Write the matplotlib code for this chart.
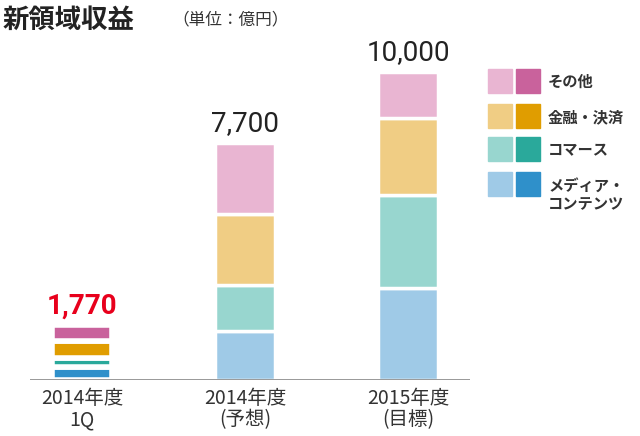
import matplotlib
matplotlib.use("Agg")
import matplotlib.pyplot as plt
from matplotlib.patches import Rectangle

plt.rcParams["font.family"] = "Noto Sans CJK JP"

categories = ["2014年度\n1Q", "2014年度\n(予想)", "2015年度\n(目標)"]
totals = ["1,770", "7,700", "10,000"]
series_names = ["メディア・\nコンテンツ", "コマース", "金融・決済", "その他"]
media = [420, 1600, 3000]
commerce = [300, 1500, 3000]
finance = [550, 2300, 2500]
other = [500, 2300, 1500]
light = ["#9fcae7", "#98d6cf", "#f0cd84", "#e9b5d2"]
dark = ["#2f90ca", "#2aa99b", "#e09d00", "#c9629c"]

fig = plt.figure(figsize=(6.4, 4.36), dpi=100)
ax = fig.add_axes([30/640, 56/436, 440/640, 340/436])
ax.set_xlim(-0.319, 2.38)
ax.set_ylim(0, 340/0.0308)
for s in ax.spines.values():
    s.set_visible(False)
ax.set_yticks([])
ax.set_xticks([])
ax.axhline(0, color="#888888", lw=1.2)

series = [media, commerce, finance, other]
for i in range(3):
    bottom = 0
    for k, vals in enumerate(series):
        col = dark[k] if i == 0 else light[k]
        lw = 4 if i == 0 else 2.5
        ax.bar(i, vals[i], 0.37, bottom=bottom, color=col, edgecolor="white", linewidth=lw)
        bottom += vals[i]
    ax.text(i, bottom + 200, totals[i], ha="center", va="bottom", fontsize=20,
            color="#e8001c" if i == 0 else "#222222", fontfamily="Roboto",
            fontweight="bold" if i == 0 else "normal")
    ax.text(i, -250, categories[i], ha="center", va="top", fontsize=14, color="#333333",
            linespacing=1.05)

fig.text(3/640, 1 - 20/436, "新領域収益", fontsize=19, fontweight="bold", va="center", color="#222222")
fig.text(172/640, 1 - 20/436, "（単位：億円）", fontsize=12, va="center", color="#333333")

# legend
ys = [185, 150, 117, 82]
for k in range(4):
    y = ys[k]
    fig.patches.append(Rectangle((488/640, 1 - (y + 11)/436), 24/640, 24/436, color=light[k], transform=fig.transFigure))
    fig.patches.append(Rectangle((516/640, 1 - (y + 11)/436), 24/640, 24/436, color=dark[k], transform=fig.transFigure))
    fig.text(548/640, 1 - (y + (10 if k == 0 else 0))/436, series_names[k], fontsize=11,
             fontweight="bold", va="center", color="#333333", linespacing=1.15)

fig.savefig("out.png", dpi=100, facecolor="white")
